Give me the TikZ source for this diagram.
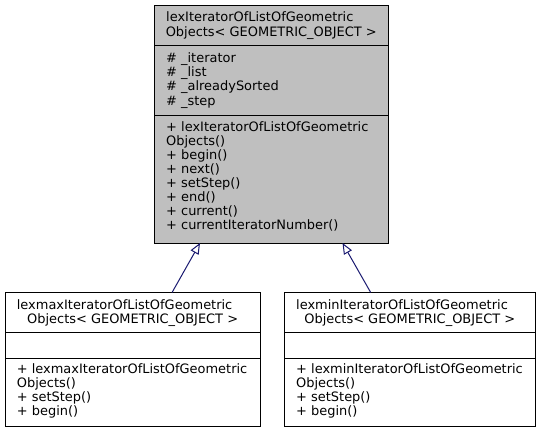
\documentclass[tikz,border=0pt]{standalone}
\usepackage{fontspec}
\setmainfont{DejaVu Sans}
\usetikzlibrary{arrows.meta,calc}
\definecolor{classgrey}{HTML}{BFBFBF}
\definecolor{edgenavy}{HTML}{191970}
\tikzset{
  compart/.style={draw=black,line width=1bp,inner sep=0pt,outer sep=0pt,anchor=north west},
  member/.style={anchor=base west,inner sep=0pt},
  heading/.style={anchor=base,inner sep=0pt},
  inherit/.style={edgenavy,line width=1bp,-{Triangle[open,length=11bp,width=9bp]}}
}
\begin{document}
\begin{tikzpicture}[x=1bp,y=-1bp,font=\fontsize{13}{14}\selectfont]
        \useasboundingbox (0,0) rectangle (541,433);
        % base class
        \node[compart,fill=classgrey,minimum width=234.5bp,minimum height=39.7bp] (lexIterName) at (154,6) {};
        \node[compart,fill=classgrey,minimum width=234.5bp,minimum height=70bp] (lexIterAttr) at (lexIterName.south west) {};
        \node[compart,fill=classgrey,minimum width=234.5bp,minimum height=127.3bp] (lexIterMeth) at (lexIterAttr.south west) {};
        \node[member] (lexIterT1) at (166,22) {lexIteratorOfListOfGeometric};
        \node[heading] (lexIterT2) at (271.25,36.2) {Objects< GEOMETRIC\_OBJECT >};
        \foreach \txt [count=\i] in {\# \_iterator,\# \_list,\# \_alreadySorted,\# \_step}
        \node[member] (lexIterA\i) at (166,{48.3+14.2*\i}) {\txt};
        \foreach \txt [count=\i] in {+ lexIteratorOfListOfGeometric,Objects(),+ begin(),+ next(),+ setStep(),+ end(),+ current(),+ currentIteratorNumber()}
        \node[member] (lexIterM\i) at (166,{117.2+14.1*\i}) {\txt};
        % lexmax class
        \node[compart,minimum width=255.3bp,minimum height=39.8bp] (lexmaxName) at (5,292.5) {};
        \node[compart,minimum width=255.3bp,minimum height=25.7bp] (lexmaxAttr) at (lexmaxName.south west) {};
        \node[compart,minimum width=255.3bp,minimum height=68bp] (lexmaxMeth) at (lexmaxAttr.south west) {};
        \node[member] (lexmaxT1) at (16.7,309.3) {lexmaxIteratorOfListOfGeometric};
        \node[heading] (lexmaxT2) at (132.65,323.3) {Objects< GEOMETRIC\_OBJECT >};
        \foreach \txt [count=\i] in {+ lexmaxIteratorOfListOfGeometric,Objects(),+ setStep(),+ begin()}
        \node[member] (lexmaxM\i) at (16.7,{359.3+14*\i}) {\txt};
        % lexmin class
        \node[compart,minimum width=251bp,minimum height=39.8bp] (lexminName) at (284.3,292.5) {};
        \node[compart,minimum width=251bp,minimum height=25.7bp] (lexminAttr) at (lexminName.south west) {};
        \node[compart,minimum width=251bp,minimum height=68bp] (lexminMeth) at (lexminAttr.south west) {};
        \node[member] (lexminT1) at (296,309.3) {lexminIteratorOfListOfGeometric};
        \node[heading] (lexminT2) at (409.8,323.3) {Objects< GEOMETRIC\_OBJECT >};
        \foreach \txt [count=\i] in {+ lexminIteratorOfListOfGeometric,Objects(),+ setStep(),+ begin()}
        \node[member] (lexminM\i) at (296,{359.3+14*\i}) {\txt};
        % inheritance
        \draw[inherit] ($(lexmaxName.north)+(39.4,0)$) -- ($(lexIterMeth.south)+(-71.25,0)$);
        \draw[inherit] ($(lexminName.north)+(-39.1,0)$) -- ($(lexIterMeth.south)+(71.25,0)$);
    \end{tikzpicture}
\end{document}
